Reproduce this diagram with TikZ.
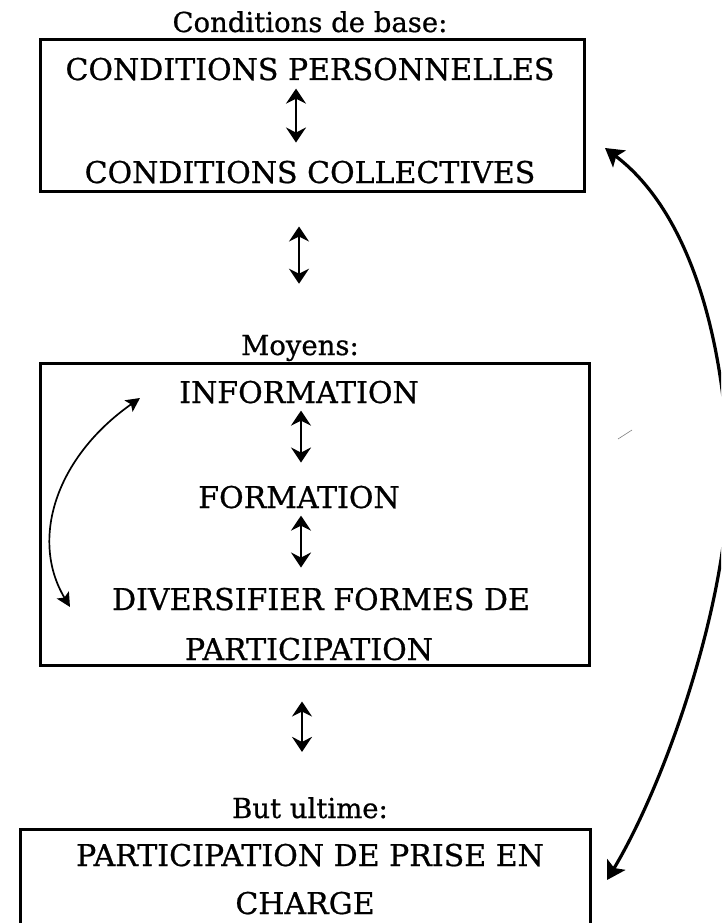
\documentclass[tikz,border=0pt]{standalone}
\usepackage{fontspec}
\setmainfont{DejaVu Serif}[FakeBold=0.7]
\usetikzlibrary{arrows.meta}
\begin{document}
\begin{tikzpicture}[x=1pt,y=-1pt,
  txt/.style={inner sep=0pt,anchor=base,font=\fontsize{30}{36}\selectfont},
  ttl/.style={inner sep=0pt,anchor=base,font=\fontsize{27.5}{33}\selectfont},
  box/.style={draw,line width=3pt,inner sep=0pt},
  dbl/.style={{Stealth[length=15pt,width=20pt,inset=5pt]}-{Stealth[length=15pt,width=20pt,inset=5pt]},line width=2.3pt},
  lcurv/.style={{Stealth[length=14pt,width=14pt,inset=3pt]}-{Stealth[length=14pt,width=14pt,inset=3pt]},line width=1.7pt},
  rcurv/.style={{Stealth[length=18pt,width=21pt,inset=4pt]}-{Stealth[length=18pt,width=21pt,inset=4pt]},line width=3.2pt}]
\useasboundingbox (0,0) rectangle (721,923);
\clip (0,0) rectangle (721,923);
\fill[white] (0,0) rectangle (721,923);
% boxes
\node[box,minimum width=544pt,minimum height=151pt] (b1) at (312,115.5) {};
\node[box,minimum width=549pt,minimum height=302pt] (b2) at (314.5,514) {};
\node[box,minimum width=570pt,minimum height=140pt] (b3) at (305,899) {};
% titles
\node[ttl] (t1) at (310,32) {Conditions de base:};
\node[ttl] (t2) at (300,355) {Moyens:};
\node[ttl] (t3) at (310,818) {But ultime:};
% texts
\node[txt] (p1) at (310,80) {CONDITIONS PERSONNELLES};
\node[txt] (p2) at (310,183) {CONDITIONS COLLECTIVES};
\node[txt] (m1) at (299,403) {INFORMATION};
\node[txt] (m2) at (299,508) {FORMATION};
\node[txt] (m3) at (321,610) {DIVERSIFIER FORMES DE};
\node[txt] (m4) at (309,660) {PARTICIPATION};
\node[txt] (u1) at (310,866) {PARTICIPATION DE PRISE EN};
\node[txt] (u2) at (305,914) {CHARGE};
% double arrows
\draw[dbl] ([xshift=-14pt,yshift=-8pt]p1.south) -- ([xshift=-14pt,yshift=18pt]p2.north);
\draw[dbl] ([xshift=-13pt,yshift=-34pt]b1.south) -- ([xshift=-1pt,yshift=51pt]t2.north);
\draw[dbl] ([xshift=2pt,yshift=-7pt]m1.south) -- ([xshift=2pt,yshift=23pt]m2.north);
\draw[dbl] ([xshift=2pt,yshift=-7pt]m2.south) -- ([xshift=-20pt,yshift=20pt]m3.north);
\draw[dbl] ([xshift=-12.5pt,yshift=-35pt]b2.south) -- ([xshift=-8pt,yshift=45pt]t3.north);
% curved arrows
\coordinate (ltop) at (140,398);
\coordinate (lbot) at (70,607);
\draw[lcurv] (ltop) .. controls (55,458) and (30,540) .. (lbot);
\coordinate (rtop) at (605,148);
\coordinate (rmid) at (728,480);
\coordinate (rbot) at (607,880);
\draw[rcurv] (rtop) .. controls (700,220) and (728,370) .. (rmid) .. controls (728,600) and (667,780) .. (rbot);
% small stray mark
\coordinate (sm1) at (618,439);
\coordinate (sm2) at (632,430);
\draw[line width=0.6pt,gray] (sm1) -- (sm2);
\end{tikzpicture}
\end{document}
